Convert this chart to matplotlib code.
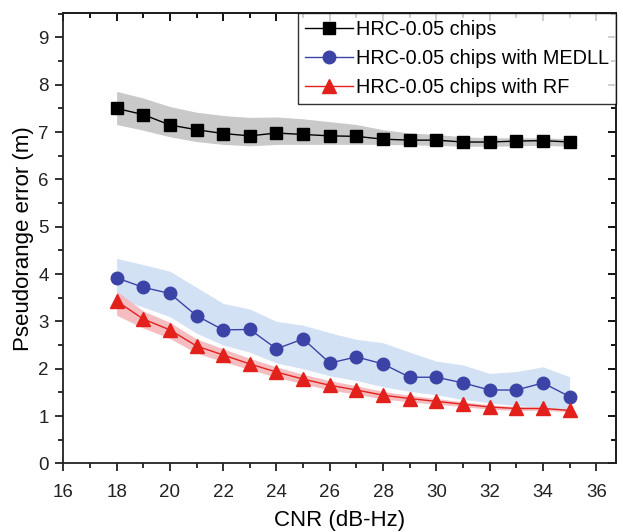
import numpy as np
import matplotlib
matplotlib.use("Agg")
import matplotlib.pyplot as plt
from matplotlib.ticker import MultipleLocator

plt.rcParams['font.family'] = ['Liberation Sans', 'DejaVu Sans']

# CNR (dB-Hz)
cnr = [18, 19, 20, 21, 22, 23, 24, 25, 26, 27, 28, 29, 30, 31, 32, 33, 34, 35]

# HRC-0.05 chips
hrc = [7.50, 7.37, 7.15, 7.05, 6.97, 6.92, 6.98, 6.95, 6.92, 6.91, 6.85, 6.83, 6.83, 6.79, 6.79, 6.81, 6.82, 6.79]
hrc_hi = [7.86, 7.72, 7.54, 7.42, 7.35, 7.31, 7.32, 7.28, 7.22, 7.16, 7.05, 6.98, 6.95, 6.90, 6.88, 6.88, 6.88, 6.86]
hrc_lo = [7.16, 7.04, 6.90, 6.80, 6.74, 6.71, 6.74, 6.74, 6.74, 6.74, 6.74, 6.73, 6.72, 6.70, 6.70, 6.71, 6.72, 6.70]

# HRC-0.05 chips with MEDLL
medll = [3.92, 3.72, 3.59, 3.12, 2.82, 2.83, 2.42, 2.63, 2.12, 2.25, 2.10, 1.82, 1.82, 1.70, 1.55, 1.55, 1.70, 1.41]
medll_hi = [4.33, 4.20, 4.06, 3.72, 3.38, 3.26, 3.00, 2.92, 2.76, 2.62, 2.55, 2.35, 2.16, 2.08, 1.90, 1.94, 2.04, 1.83]
medll_lo = [3.50, 3.30, 3.10, 2.75, 2.50, 2.35, 2.12, 2.00, 1.85, 1.75, 1.62, 1.52, 1.45, 1.35, 1.28, 1.22, 1.18, 1.13]

# HRC-0.05 chips with RF
rf = [3.43, 3.05, 2.82, 2.48, 2.29, 2.10, 1.93, 1.78, 1.65, 1.55, 1.44, 1.37, 1.31, 1.25, 1.19, 1.16, 1.16, 1.12]
rf_hi = [3.64, 3.22, 2.98, 2.63, 2.42, 2.22, 2.04, 1.88, 1.75, 1.64, 1.52, 1.44, 1.37, 1.30, 1.24, 1.20, 1.19, 1.15]
rf_lo = [3.13, 2.86, 2.64, 2.33, 2.15, 1.98, 1.82, 1.68, 1.55, 1.46, 1.36, 1.30, 1.25, 1.20, 1.14, 1.12, 1.12, 1.09]

fig = plt.figure(figsize=(6.23, 5.32), dpi=100)
ax = fig.add_axes([0.1016, 0.129, 0.8872, 0.846])

ax.fill_between(cnr, hrc_lo, hrc_hi, color='#c9c9c9', lw=0)
ax.fill_between(cnr, medll_lo, medll_hi, color='#d3e1f5', lw=0)
ax.fill_between(cnr, rf_lo, rf_hi, color='#f5b6bb', lw=0, alpha=0.9)

ax.plot(cnr, hrc, '-s', color='black', lw=1, ms=8, label='HRC-0.05 chips')
ax.plot(cnr, medll, '-o', color='#3b43a6', lw=1, ms=9, label='HRC-0.05 chips with MEDLL')
ax.plot(cnr, rf, '-^', color='#e3211c', lw=1, ms=10, label='HRC-0.05 chips with RF')

ax.set_xlim(16, 36.74)
ax.set_ylim(0, 9.51)
ax.xaxis.set_major_locator(MultipleLocator(2))
ax.xaxis.set_minor_locator(MultipleLocator(1))
ax.yaxis.set_major_locator(MultipleLocator(1))
ax.yaxis.set_minor_locator(MultipleLocator(0.5))

ax.tick_params(which='both', direction='out', width=1.3, labelsize=13.5, colors='#222222')
ax.tick_params(which='major', length=6)
ax.tick_params(which='minor', length=3.5)
ax.tick_params(axis='x', which='major', pad=8.5)
ax.tick_params(axis='y', which='major', pad=4.5)
for s in ax.spines.values():
    s.set_linewidth(1.3)
    s.set_color('#222222')

# mirrored ticks on top and right (pointing inside)
sec_x = ax.secondary_xaxis('top')
sec_x.xaxis.set_major_locator(MultipleLocator(2))
sec_x.xaxis.set_minor_locator(MultipleLocator(1))
sec_x.tick_params(which='both', direction='in', labeltop=False, width=1.3)
sec_x.tick_params(which='major', length=6)
sec_x.tick_params(which='minor', length=3.5)
sec_y = ax.secondary_yaxis('right')
sec_y.yaxis.set_major_locator(MultipleLocator(1))
sec_y.yaxis.set_minor_locator(MultipleLocator(0.5))
sec_y.tick_params(which='both', direction='in', labelright=False, width=1.3)
sec_y.tick_params(which='major', length=6)
sec_y.tick_params(which='minor', length=3.5)
for s in list(sec_x.spines.values()) + list(sec_y.spines.values()):
    s.set_linewidth(1.3)

ax.set_xlabel('CNR (dB-Hz)', fontsize=16, labelpad=7)
ax.set_ylabel('Pseudorange error (m)', fontsize=16, labelpad=3)

leg = ax.legend(loc='upper right', fontsize=14.3, frameon=True, fancybox=False,
                edgecolor='black', borderaxespad=0, handlelength=2.4,
                labelspacing=0.5, borderpad=0.35, handletextpad=0.15)
leg.get_frame().set_linewidth(1.0)

fig.savefig('out.png', dpi=100)
